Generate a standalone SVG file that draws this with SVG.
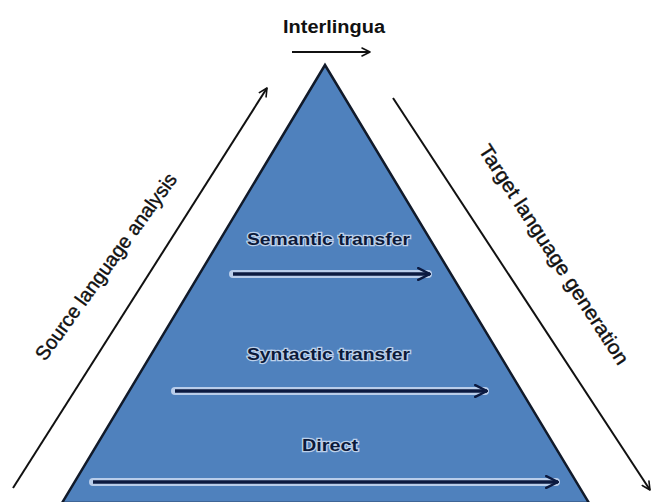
<svg xmlns="http://www.w3.org/2000/svg" width="652" height="502" viewBox="0 0 652 502">
  <defs>
    <marker id="chev" viewBox="0 0 10 10" refX="9" refY="5" markerWidth="5" markerHeight="5" markerUnits="strokeWidth" orient="auto">
      <path d="M1,1 L9,5 L1,9" fill="none" stroke="#111" stroke-width="1.6" stroke-linecap="round" stroke-linejoin="round"/>
    </marker>
    <marker id="chevIn" viewBox="0 0 10 10" refX="9" refY="5" markerWidth="4.2" markerHeight="4.2" markerUnits="strokeWidth" orient="auto">
      <path d="M1,1 L9,5 L1,9" fill="none" stroke="#0c1a40" stroke-width="1.7" stroke-linecap="round" stroke-linejoin="round"/>
    </marker>
  </defs>
  <style>
    .side { font-family: "Liberation Sans", Arial, sans-serif; font-size: 20px; fill: #111; stroke: #111; stroke-width: 0.4; }
    .top { font-family: "Liberation Sans", Arial, sans-serif; font-size: 18px; font-weight: bold; fill: #111; }
    .lvl { font-family: "Liberation Sans", Arial, sans-serif; font-size: 17px; font-weight: bold; fill: #0c1a3a; stroke: #bcd0ea; stroke-width: 2.5; paint-order: stroke; }
    .outer { fill: none; stroke: #111; stroke-width: 2; marker-end: url(#chev); }
    .halo { stroke: #b9cdea; stroke-width: 8; stroke-linecap: round; fill: none; }
    .inner { stroke: #0c1a40; stroke-width: 3.5; fill: none; marker-end: url(#chevIn); }
  </style>
  <rect width="652" height="502" fill="#ffffff"/>

  <g id="pyramid">
    <polygon points="325,65 62,503 589,503" fill="#4f81bd" stroke="#111a2a" stroke-width="2.5" stroke-linejoin="miter"/>
  </g>

  <g id="interlingua">
    <text class="top" x="283" y="33" textLength="102" lengthAdjust="spacingAndGlyphs">Interlingua</text>
  </g>
  <g id="semantic">
    <text class="lvl" x="247" y="245" textLength="163" lengthAdjust="spacingAndGlyphs">Semantic transfer</text>
  </g>
  <g id="syntactic">
    <text class="lvl" x="247" y="360" textLength="163" lengthAdjust="spacingAndGlyphs">Syntactic transfer</text>
  </g>
  <g id="direct">
    <text class="lvl" x="302" y="451" textLength="56" lengthAdjust="spacingAndGlyphs">Direct</text>
  </g>
  <g id="source">
    <text class="side" transform="translate(45,362) rotate(-54)" textLength="226" lengthAdjust="spacingAndGlyphs">Source language analysis</text>
  </g>
  <g id="target">
    <text class="side" transform="translate(478,150) rotate(57)" textLength="258" lengthAdjust="spacingAndGlyphs">Target language generation</text>
  </g>

  <g id="connectors">
    <line class="outer" x1="292" y1="52" x2="370" y2="52"/>
    <line class="outer" x1="13" y1="488" x2="267" y2="88"/>
    <line class="outer" x1="393" y1="98" x2="650" y2="490"/>
    <line class="halo" x1="233" y1="274" x2="428" y2="274"/>
    <line class="inner" x1="233" y1="274" x2="430" y2="274"/>
    <line class="halo" x1="175" y1="391" x2="485" y2="391"/>
    <line class="inner" x1="175" y1="391" x2="487" y2="391"/>
    <line class="halo" x1="93" y1="482" x2="556" y2="482"/>
    <line class="inner" x1="93" y1="482" x2="558" y2="482"/>
  </g>
</svg>
